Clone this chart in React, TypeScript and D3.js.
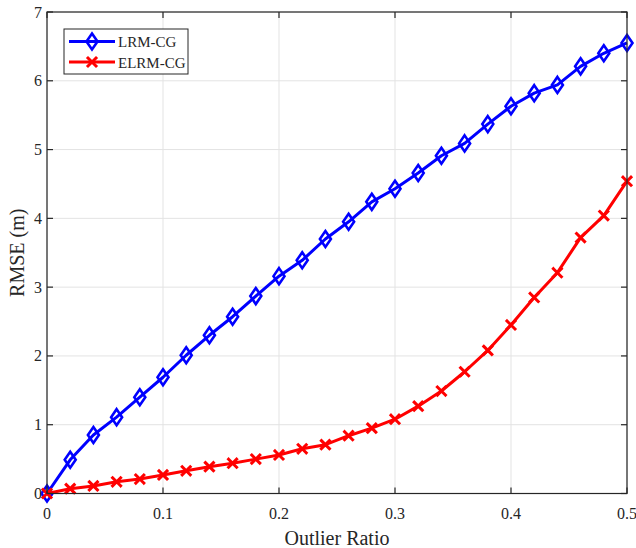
import React from "react";
import * as d3 from "d3";

const ratios = [0, 0.02, 0.04, 0.06, 0.08, 0.1, 0.12, 0.14, 0.16, 0.18, 0.2, 0.22, 0.24, 0.26, 0.28, 0.3, 0.32, 0.34, 0.36, 0.38, 0.4, 0.42, 0.44, 0.46, 0.48, 0.5];
const lrmCG = [0, 0.49, 0.85, 1.11, 1.4, 1.69, 2.01, 2.3, 2.57, 2.87, 3.16, 3.39, 3.7, 3.95, 4.24, 4.43, 4.66, 4.91, 5.09, 5.37, 5.63, 5.82, 5.94, 6.21, 6.4, 6.55];
const elrmCG = [0, 0.07, 0.11, 0.17, 0.21, 0.27, 0.33, 0.39, 0.44, 0.5, 0.56, 0.65, 0.71, 0.84, 0.95, 1.08, 1.27, 1.49, 1.77, 2.08, 2.45, 2.85, 3.21, 3.72, 4.04, 4.54];
const xTicks = [0, 0.1, 0.2, 0.3, 0.4, 0.5];
const yTicks = [0, 1, 2, 3, 4, 5, 6, 7];
const seriesNames = ["LRM-CG", "ELRM-CG"];

const W = 636;
const H = 548;
const left = 47;
const right = 627;
const top = 12;
const bottom = 493.5;
const font = "'Liberation Serif', 'Times New Roman', serif";
const ink = "#262626";

const x = d3.scaleLinear().domain([0, 0.5]).range([left, right]);
const y = d3.scaleLinear().domain([0, 7]).range([bottom, top]);

const Diamond = ({ cx, cy }: { cx: number; cy: number }) => (
  <path
    d={`M${cx},${cy - 8}L${cx + 5.5},${cy}L${cx},${cy + 8}L${cx - 5.5},${cy}Z`}
    fill="none"
    stroke="#0000ff"
    strokeWidth={2.6}
  />
);

const Cross = ({ cx, cy }: { cx: number; cy: number }) => (
  <path
    d={`M${cx - 4},${cy - 4}L${cx + 4},${cy + 4}M${cx - 4},${cy + 4}L${cx + 4},${cy - 4}`}
    fill="none"
    stroke="#ff0000"
    strokeWidth={3}
    strokeLinecap="square"
  />
);

export default function App() {
  const line = d3
    .line<number>()
    .x((_, i) => x(ratios[i]))
    .y((d) => y(d));

  return (
    <svg width={W} height={H} style={{ position: "absolute", left: 0, top: 0, background: "#fff" }}>
      <rect x={0} y={0} width={W} height={H} fill="#fff" />
      {/* grid */}
      {xTicks.map((t) => (
        <line key={`gx${t}`} x1={x(t)} x2={x(t)} y1={top} y2={bottom} stroke="#e3e3e3" strokeWidth={1} />
      ))}
      {yTicks.map((t) => (
        <line key={`gy${t}`} x1={left} x2={right} y1={y(t)} y2={y(t)} stroke="#e3e3e3" strokeWidth={1} />
      ))}
      {/* series */}
      <path d={line(lrmCG) || ""} fill="none" stroke="#0000ff" strokeWidth={3} strokeLinejoin="round" />
      {lrmCG.map((v, i) => (
        <Diamond key={`d${i}`} cx={x(ratios[i])} cy={y(v)} />
      ))}
      <path d={line(elrmCG) || ""} fill="none" stroke="#ff0000" strokeWidth={3} strokeLinejoin="round" />
      {elrmCG.map((v, i) => (
        <Cross key={`c${i}`} cx={x(ratios[i])} cy={y(v)} />
      ))}
      {/* frame and ticks */}
      <rect x={left} y={top} width={right - left} height={bottom - top} fill="none" stroke={ink} strokeWidth={1.2} />
      {xTicks.map((t) => (
        <g key={`tx${t}`}>
          <line x1={x(t)} x2={x(t)} y1={bottom} y2={bottom - 6} stroke={ink} strokeWidth={1.2} />
          <line x1={x(t)} x2={x(t)} y1={top} y2={top + 6} stroke={ink} strokeWidth={1.2} />
          <text x={x(t)} y={519} textAnchor="middle" fontFamily={font} fontSize={16} fill={ink}>
            {t}
          </text>
        </g>
      ))}
      {yTicks.map((t) => (
        <g key={`ty${t}`}>
          <line x1={left} x2={left + 6} y1={y(t)} y2={y(t)} stroke={ink} strokeWidth={1.2} />
          <line x1={right} x2={right - 6} y1={y(t)} y2={y(t)} stroke={ink} strokeWidth={1.2} />
          <text x={42} y={y(t) + 5.5} textAnchor="end" fontFamily={font} fontSize={16} fill={ink}>
            {t}
          </text>
        </g>
      ))}
      {/* axis labels */}
      <text x={(left + right) / 2} y={545} textAnchor="middle" fontFamily={font} fontSize={20} fill={ink}>
        Outlier Ratio
      </text>
      <text
        transform={`translate(24,${(top + bottom) / 2}) rotate(-90)`}
        textAnchor="middle"
        fontFamily={font}
        fontSize={20}
        fill={ink}
      >
        RMSE (m)
      </text>
      {/* legend */}
      <rect x={64} y={29} width={124} height={45} fill="#fff" stroke={ink} strokeWidth={1} />
      <line x1={69} x2={115} y1={41.5} y2={41.5} stroke="#0000ff" strokeWidth={3} />
      <Diamond cx={92} cy={41.5} />
      <text x={118} y={47} fontFamily={font} fontSize={15} fill={ink}>
        {seriesNames[0]}
      </text>
      <line x1={69} x2={115} y1={62} y2={62} stroke="#ff0000" strokeWidth={3} />
      <Cross cx={92} cy={62} />
      <text x={118} y={67.5} fontFamily={font} fontSize={15} fill={ink}>
        {seriesNames[1]}
      </text>
    </svg>
  );
}
